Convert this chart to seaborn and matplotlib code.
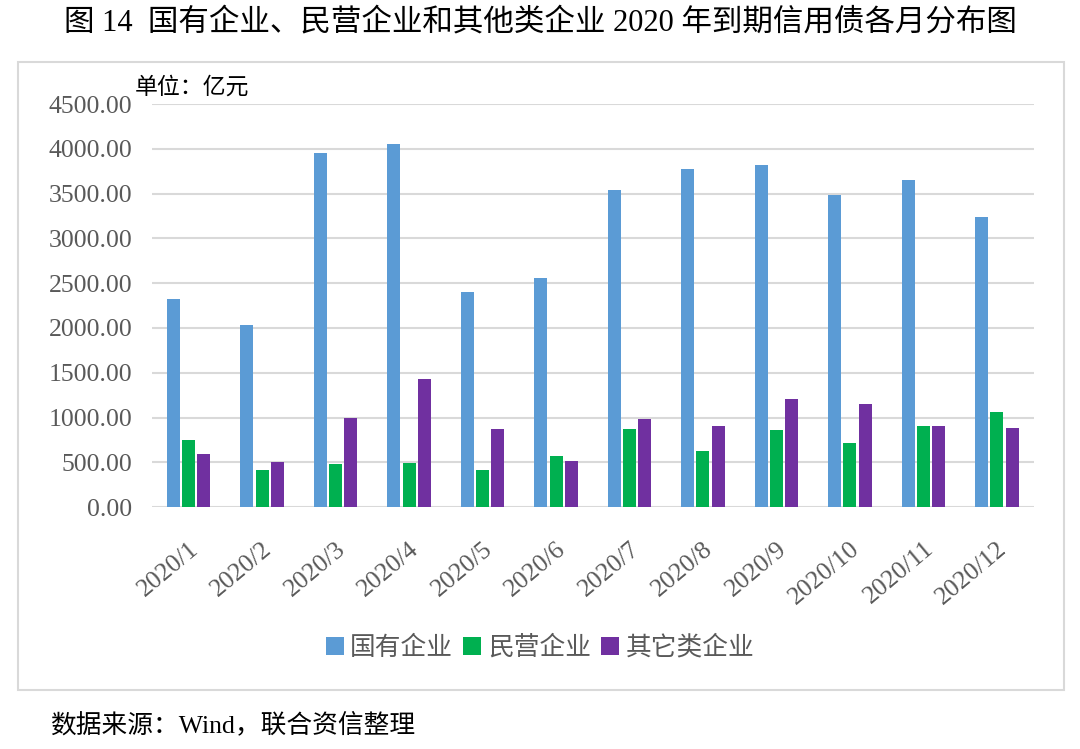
import pandas as pd
import seaborn as sns
import matplotlib.pyplot as plt
from matplotlib.patches import Rectangle
from matplotlib.ticker import FormatStrFormatter

# Data (亿元)
months = ["2020/1", "2020/2", "2020/3", "2020/4", "2020/5", "2020/6",
          "2020/7", "2020/8", "2020/9", "2020/10", "2020/11", "2020/12"]
state_owned = [2320, 2030, 3950, 4050, 2405, 2555, 3540, 3770, 3815, 3490, 3650, 3235]
private = [750, 410, 485, 495, 410, 575, 875, 625, 860, 720, 905, 1060]
other = [590, 500, 1000, 1425, 875, 515, 985, 910, 1210, 1150, 910, 880]
series_names = ["国有企业", "民营企业", "其它类企业"]
colors = ["#5B9BD5", "#00B050", "#7030A0"]

df = pd.DataFrame({
    "month": months * 3,
    "value": state_owned + private + other,
    "type": [series_names[0]] * 12 + [series_names[1]] * 12 + [series_names[2]] * 12,
})

sns.set_style("white")
plt.rcParams["font.family"] = ["Liberation Serif", "Noto Sans CJK SC", "DejaVu Sans"]

fig = plt.figure(figsize=(10.8, 7.49), dpi=100)
ax = fig.add_axes([0.1407, 0.323, 0.8163, 0.538])

sns.barplot(
    data=df, x="month", y="value", hue="type",
    palette=colors, width=0.62, gap=0.145,
    saturation=1, linewidth=0, ax=ax, legend=True,
)

# Axes styling
ax.set_ylim(0, 4500)
ax.set_yticks(range(0, 4501, 500))
ax.yaxis.set_major_formatter(FormatStrFormatter("%.2f"))
ax.grid(axis="y", color="#D9D9D9", linewidth=1.5)
ax.set_axisbelow(True)
for s in ax.spines.values():
    s.set_visible(False)
ax.set_xlabel("")
ax.set_ylabel("")
ax.tick_params(axis="both", length=0, colors="#595959", labelsize=18.5)
ax.tick_params(axis="y", pad=14)
ax.tick_params(axis="x", pad=22)
for lbl in ax.get_xticklabels():
    lbl.set_rotation(40)
    lbl.set_ha("right")
    lbl.set_rotation_mode("anchor")

# Legend
handles, labels = ax.get_legend_handles_labels()
ax.get_legend().remove()
fig.legend(
    handles, labels, loc="center", bbox_to_anchor=(0.5, 0.135), ncol=3,
    frameon=False, handlelength=0.7, handleheight=0.7, handletextpad=0.25,
    columnspacing=0.4, prop={"family": ["Noto Sans CJK SC"], "size": 18.5},
    labelcolor="#595959",
)

# Texts
fig.text(0.5, 0.970, "图 14  国有企业、民营企业和其他类企业 2020 年到期信用债各月分布图",
         ha="center", va="center", fontsize=22, color="black")
fig.text(0.125, 0.883, "单位：亿元", ha="left", va="center", fontsize=16.5,
         color="black", family=["Noto Sans CJK SC"])
fig.text(0.046, 0.032, "数据来源：Wind，联合资信整理", ha="left", va="center",
         fontsize=18.5, color="black")

# Chart frame
fig.patches.append(Rectangle((0.017, 1 - 690 / 749), 0.968, (690 - 62) / 749,
                             transform=fig.transFigure, fill=False,
                             edgecolor="#D9D9D9", linewidth=1.5))

plt.savefig("out.png", dpi=100)
